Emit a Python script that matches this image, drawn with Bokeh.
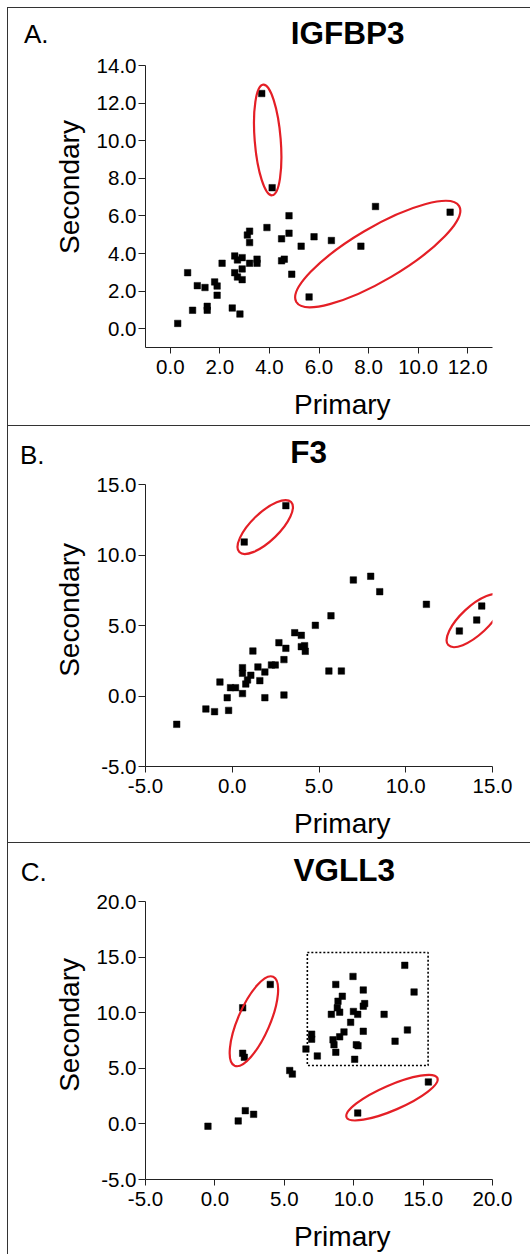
import math
from bokeh.plotting import figure
from bokeh.layouts import column
from bokeh.models import Range1d, FixedTicker, NumeralTickFormatter, BoxAnnotation, Div
from bokeh.embed import file_html
from bokeh.resources import INLINE

# ---------------- data ----------------
# Panel A: IGFBP3
a_primary = [0.30, 0.70, 0.90, 1.09, 1.40, 1.49, 1.49, 1.79, 1.89, 1.89, 2.09, 2.50, 2.81, 2.60,
             2.71, 2.60, 2.71, 2.90, 2.90, 2.90, 3.11, 3.20, 3.20, 3.20, 3.50, 3.50, 3.69, 3.90,
             4.11, 4.49, 4.49, 4.60, 4.79, 4.79, 4.90, 5.28, 5.60, 5.80, 6.50, 7.69, 8.28, 11.29]
a_secondary = [0.28, 2.98, 0.98, 2.29, 2.19, 1.19, 0.98, 2.49, 2.27, 1.78, 3.48, 1.10, 0.78, 3.87,
               3.66, 2.98, 2.75, 3.78, 3.18, 2.61, 4.98, 5.19, 4.58, 3.48, 3.70, 3.48, 12.51, 5.38,
               7.50, 4.78, 3.61, 3.70, 6.01, 5.08, 2.90, 4.39, 1.69, 4.89, 4.69, 4.39, 6.50, 6.20]

# Panel B: F3
b_primary = [3.09, 0.69, 6.98, 7.98, 8.50, 11.19, 14.38, 14.09, 13.09, 5.69, 4.79, 3.60, 3.98, 2.69,
             3.09, 3.98, 4.17, 4.21, 1.19, 2.98, 2.26, 2.48, 0.59, 0.59, 1.48, 1.88, 1.07, 0.88,
             1.59, 0.78, -0.71, -0.10, 0.19, 0.59, -0.29, 1.88, 2.98, 5.57, 6.29, -1.52, -1.02,
             -0.21, -3.20]
b_secondary = [13.50, 10.92, 8.23, 8.49, 7.40, 6.50, 6.38, 5.39, 4.61, 5.69, 5.01, 4.49, 4.30, 3.78,
               3.38, 3.50, 3.57, 3.17, 3.19, 2.58, 2.20, 2.20, 2.01, 1.61, 2.06, 1.70, 1.47, 1.14,
               1.09, 0.85, 0.99, 0.59, 0.59, 0.17, -0.12, -0.12, 0.07, 1.77, 1.77, -0.92, -1.11,
               -1.02, -2.01]

# Panel C: VGLL3
c_primary = [-0.50, 1.68, 2.19, 2.79, 2.00, 3.99, 2.00, 2.12, 5.39, 5.58, 6.56, 6.97, 6.97, 7.38,
             8.39, 8.71, 8.82, 8.99, 9.18, 8.87, 9.95, 10.69, 10.79, 10.69, 9.98, 10.29, 9.78, 9.30,
             8.99, 8.51, 8.58, 8.71, 10.19, 10.31, 10.69, 10.07, 12.19, 12.98, 13.87, 13.68, 14.35,
             15.38, 10.29]
c_secondary = [-0.21, 0.27, 1.19, 0.86, 10.44, 12.54, 6.35, 5.99, 4.80, 4.48, 6.73, 8.07, 7.62, 6.11,
               9.85, 12.54, 10.44, 10.05, 11.48, 11.03, 13.26, 12.04, 10.82, 10.59, 10.11, 9.85, 9.13,
               8.27, 7.83, 7.56, 7.12, 6.44, 7.12, 7.03, 8.33, 5.81, 9.85, 7.44, 8.45, 14.26, 11.86,
               3.77, 0.98]

# outlier ellipses: centre (data), semi-axes (px), angle (deg)
a_ell_x = [3.93, 8.37]
a_ell_y = [10.04, 3.97]
a_ell_a = [55.5, 94.5]
a_ell_b = [13.0, 26.5]
a_ell_ang = [94.6, 30.5]

b_ell_x = [1.90, 13.97]
b_ell_y = [11.98, 5.35]
b_ell_a = [36.0, 36.0]
b_ell_b = [14.0, 14.0]
b_ell_ang = [44.0, 43.0]

c_ell_x = [2.81, 12.76]
c_ell_y = [9.23, 2.36]
c_ell_a = [48.5, 49.5]
c_ell_b = [16.0, 12.5]
c_ell_ang = [66.6, 23.4]

# dotted cluster box in panel C: left, right, bottom, top
c_box = [6.66, 15.36, 5.25, 15.42]

FONT = "Liberation Sans"
RED = "#e41f26"
BORDER = "1px solid #333333"
W = 523
HDR_H = 45
FRAME_L = 137
FRAME_W = 347
FRAME_H = 282
NB = "\u00a0"


def header(letter, gene, lt_left, lt_top, gn_left, gn_top):
    html = (
        f'<div style="position:relative;width:{W}px;height:{HDR_H}px;">'
        f'<span style="position:absolute;left:{lt_left}px;top:{lt_top}px;'
        f"font-family:'{FONT}';font-size:26px;line-height:26px;color:#000;"
        f'white-space:nowrap;">{letter}</span>'
        f'<span style="position:absolute;left:{gn_left}px;top:{gn_top}px;'
        f"font-family:'{FONT}';font-weight:bold;font-size:31.5px;line-height:31.5px;"
        f'color:#000;white-space:nowrap;">{gene}</span></div>'
    )
    return Div(text=html, width=W, height=HDR_H, margin=0,
               styles={"border-top": BORDER, "border-left": BORDER})


def make_panel(xs, ys, xr, yr, ticks_x, ticks_y, height, frame_top, ell, box=None, ypad=4):
    bottom = height - frame_top - FRAME_H
    p = figure(width=W, height=height, output_backend="svg", toolbar_location=None,
               title=None, x_range=Range1d(*xr), y_range=Range1d(*yr),
               min_border_left=FRAME_L, min_border_right=W - FRAME_L - FRAME_W,
               min_border_top=frame_top, min_border_bottom=bottom, margin=0,
               styles={"border-left": BORDER})
    p.outline_line_color = None
    p.xgrid.visible = False
    p.ygrid.visible = False
    p.background_fill_color = "white"
    p.border_fill_color = "white"

    for ax, ticks, standoff, tout in ((p.xaxis[0], ticks_x, 6, 6), (p.yaxis[0], ticks_y, 2, 7)):
        ax.ticker = FixedTicker(ticks=ticks)
        ax.formatter = NumeralTickFormatter(format="0.0")
        ax.minor_tick_line_color = None
        ax.major_tick_in = 0
        ax.major_tick_out = tout
        ax.major_tick_line_color = "#222222"
        ax.axis_line_color = "#222222"
        ax.major_label_text_font = FONT
        ax.major_label_text_font_size = "20.5px"
        ax.major_label_text_color = "black"
        ax.major_label_standoff = standoff
        ax.axis_label_text_font = FONT
        ax.axis_label_text_font_size = "28px"
        ax.axis_label_text_font_style = "normal"
        ax.axis_label_text_color = "black"

    # labels are offset from the frame centre as in the reference (leading no-break spaces)
    p.xaxis[0].axis_label = NB * 6 + "Primary"
    p.xaxis[0].axis_label_standoff = 12
    p.yaxis[0].axis_label = NB * ypad + "Secondary"
    p.yaxis[0].axis_label_standoff = 9

    # data points
    p.scatter(xs, ys, marker="square", size=6.5, fill_color="black", line_color="black",
              line_width=0.5)

    # outlier ellipses
    ex, ey, ea, eb, eang = ell
    p.ellipse(x=ex, y=ey, width=[2 * v for v in ea], height=[2 * v for v in eb],
              angle=[math.radians(v) for v in eang], width_units="screen", height_units="screen",
              fill_color=None, line_color=RED, line_width=2.2)

    if box is not None:
        p.add_layout(BoxAnnotation(left=box[0], right=box[1], bottom=box[2], top=box[3],
                                   fill_alpha=0, fill_color=None, line_color="black",
                                   line_alpha=1.0, line_width=1.6, line_dash="2 2"))
    return p


hA = header("A.", "IGFBP3", 16, 13.3, 282.7, 9.6)
pA = make_panel(a_primary, a_secondary, (-1, 13), (-1, 14),
                [0, 2, 4, 6, 8, 10, 12], [0, 2, 4, 6, 8, 10, 12, 14], 373, 13,
                (a_ell_x, a_ell_y, a_ell_a, a_ell_b, a_ell_ang), ypad=5)
hB = header("B.", "F3", 12, 16, 282.2, 11.3)
pB = make_panel(b_primary, b_secondary, (-5, 15), (-5, 15),
                [-5, 0, 5, 10, 15], [-5, 0, 5, 10, 15], 372, 14,
                (b_ell_x, b_ell_y, b_ell_a, b_ell_b, b_ell_ang), ypad=4)
hC = header("C.", "VGLL3", 12.7, 16.3, 285.5, 11.6)
pC = make_panel(c_primary, c_secondary, (-5, 20), (-5, 20),
                [-5, 0, 5, 10, 15, 20], [-5, 0, 5, 10, 15, 20], 367, 14,
                (c_ell_x, c_ell_y, c_ell_a, c_ell_b, c_ell_ang), box=c_box, ypad=4)

layout = column(hA, pA, hB, pB, hC, pC, spacing=0, margin=(7, 0, 0, 7))
open("out.html", "w").write(file_html(layout, INLINE))
